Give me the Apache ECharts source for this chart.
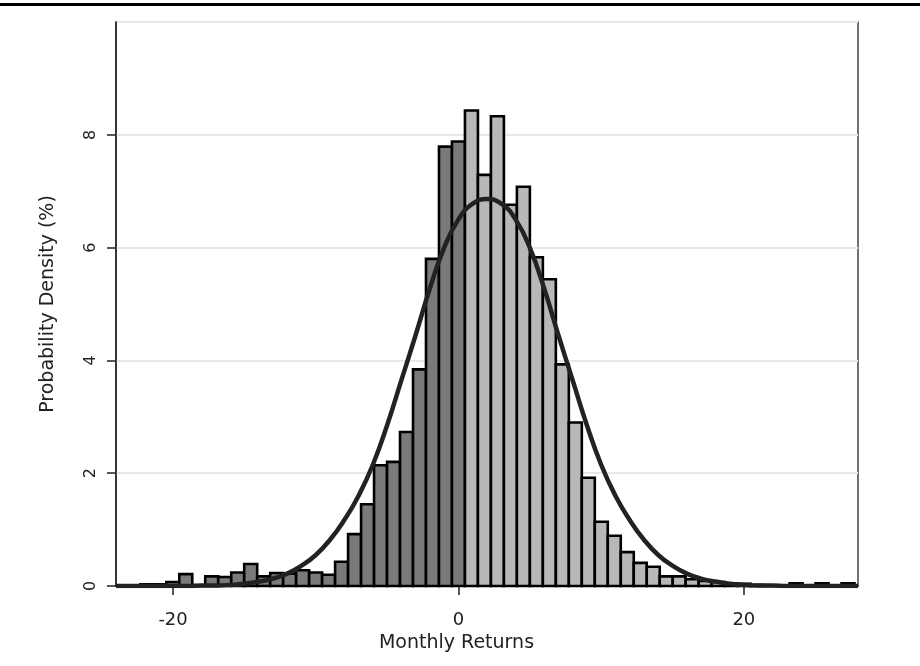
<!DOCTYPE html>
<html lang="en">
<head>
    <meta http-equiv="Content-Type" content="text/html; charset=utf-8" />
    <title>Monthly Returns</title>
    <style>
        html, body { margin: 0; padding: 0; background: #fff; }
        #chart { width: 920px; height: 666px; }
    </style>
</head>
<body>
<div id="chart"></div>
<script type="text/javascript" src="https://cdn.jsdelivr.net/npm/echarts@6/dist/echarts.min.js"></script>
<script type="text/javascript">
    var chart = echarts.init(document.getElementById('chart'));

    // histogram: bin centres (%) and density (%)
    var binWidth = 0.91;
    var binCenters = [
        -21.84, -20.93, -20.02, -19.11, -18.20, -17.29, -16.38, -15.47, -14.56, -13.65,
        -12.74, -11.83, -10.92, -10.01, -9.10, -8.19, -7.28, -6.37, -5.46, -4.55,
        -3.64, -2.73, -1.82, -0.91, 0, 0.91, 1.82, 2.73, 3.64, 4.55,
        5.46, 6.37, 7.28, 8.19, 9.10, 10.01, 10.92, 11.83, 12.74, 13.65,
        14.56, 15.47, 16.38, 17.29, 18.20, 19.11, 20.02, 20.93, 21.84, 22.75,
        23.66, 24.57, 25.48, 26.39, 27.30
    ];
    var density = [
        0.03, 0.03, 0.07, 0.21, 0, 0.17, 0.16, 0.24, 0.39, 0.17,
        0.23, 0.22, 0.28, 0.24, 0.20, 0.43, 0.92, 1.45, 2.14, 2.20,
        2.73, 3.84, 5.80, 7.79, 7.88, 8.43, 7.29, 8.33, 6.76, 7.08,
        5.83, 5.44, 3.93, 2.90, 1.92, 1.14, 0.89, 0.60, 0.41, 0.34,
        0.17, 0.17, 0.12, 0.09, 0.07, 0.05, 0.04, 0.02, 0, 0,
        0.05, 0, 0.05, 0, 0.05
    ];

    // fitted curve
    var curveX = [
        -24, -23, -22, -21, -20, -19, -18, -17, -16, -15, -14, -13, -12, -11, -10, -9, -8, -7, -6, -5,
        -4, -3, -2, -1, 0, 1, 2, 3, 4, 5, 6, 7, 8, 9, 10, 11, 12, 13, 14, 15,
        16, 17, 18, 19, 20, 21, 22, 23, 24, 25, 26, 27, 28
    ];
    var curveY = [
        0, 0, 0, 0, 0, 0, 0.01, 0.01, 0.02, 0.04, 0.08, 0.13, 0.22, 0.36, 0.55, 0.82, 1.17, 1.60, 2.15, 2.85,
        3.65, 4.45, 5.28, 6.00, 6.50, 6.78, 6.86, 6.78, 6.50, 6.00, 5.28, 4.45, 3.65, 2.85, 2.15, 1.60, 1.17, 0.82, 0.55, 0.36,
        0.22, 0.13, 0.08, 0.04, 0.02, 0.01, 0.01, 0, 0, 0, 0, 0, 0
    ];

    var xTicks = [-20, 0, 20];

    var histData = binCenters.map(function (c, i) { return [c, density[i]]; });
    var curveData = curveX.map(function (x, i) { return [x, curveY[i]]; });

    var txt = '#222';
    var font = 'DejaVu Sans';

    var option = {
        backgroundColor: '#fff',
        animation: false,
        graphic: [{
            type: 'rect',
            shape: { x: 0, y: 3, width: 920, height: 3 },
            style: { fill: '#000' }
        }],
        grid: {
            left: 116, right: 62, top: 22, bottom: 80,
            show: true, borderColor: '#444', borderWidth: 1.5
        },
        xAxis: {
            type: 'value',
            min: -24, max: 28,
            name: 'Monthly Returns',
            nameLocation: 'middle',
            nameGap: 46,
            nameTextStyle: { fontFamily: font, fontSize: 19, color: txt, padding: [0, 61, 0, 0] },
            axisLine: { show: true, onZero: false, lineStyle: { color: '#222', width: 1.5 } },
            axisTick: { show: true, length: 9, customValues: xTicks, lineStyle: { color: '#222', width: 1.5 } },
            axisLabel: { customValues: xTicks, margin: 25, fontFamily: font, fontSize: 18, color: txt },
            splitLine: { show: false }
        },
        yAxis: {
            type: 'value',
            min: 0, max: 10, interval: 2,
            name: 'Probability Density (%)',
            nameLocation: 'middle',
            nameGap: 58,
            nameTextStyle: { fontFamily: font, fontSize: 19, color: txt },
            axisLine: { show: true, onZero: false, lineStyle: { color: '#222', width: 1.5 } },
            axisTick: { show: true, length: 9, lineStyle: { color: '#222', width: 1.5 } },
            axisLabel: { rotate: 90, margin: 17, showMaxLabel: false, fontFamily: font, fontSize: 16, color: txt },
            splitLine: { show: true, lineStyle: { color: '#e8e8e8', width: 2 } }
        },
        series: [{
            type: 'custom',
            data: histData,
            renderItem: function (params, api) {
                var c = api.value(0), v = api.value(1);
                var p0 = api.coord([c - binWidth / 2, v]);
                var p1 = api.coord([c + binWidth / 2, 0]);
                return {
                    type: 'rect',
                    shape: { x: p0[0], y: p0[1], width: p1[0] - p0[0], height: p1[1] - p0[1] },
                    style: { fill: c <= 0 ? '#7a7a7a' : '#b8b8b8', stroke: '#000', lineWidth: 2.6 }
                };
            },
            z: 2
        }, {
            type: 'line',
            data: curveData,
            smooth: true,
            symbol: 'none',
            lineStyle: { color: '#222', width: 4.5 },
            z: 3
        }]
    };

    chart.setOption(option);
</script>
</body>
</html>
